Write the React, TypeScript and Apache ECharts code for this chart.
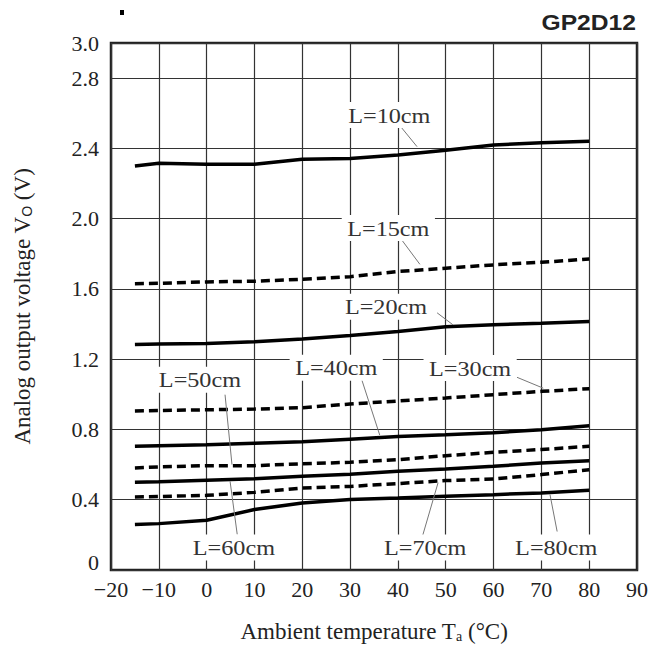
import React, { useEffect, useRef } from 'react';
import * as echarts from 'echarts';

const temps = [-15, -10, 0, 10, 20, 30, 40, 50, 60, 70, 80];
const L10 = [2.30, 2.315, 2.31, 2.31, 2.338, 2.343, 2.362, 2.39, 2.419, 2.432, 2.44];
const L15 = [1.63, 1.632, 1.64, 1.644, 1.655, 1.67, 1.699, 1.718, 1.737, 1.752, 1.77];
const L20 = [1.283, 1.286, 1.29, 1.30, 1.315, 1.335, 1.358, 1.385, 1.396, 1.405, 1.415];
const L30 = [0.905, 0.908, 0.912, 0.916, 0.924, 0.945, 0.962, 0.979, 0.998, 1.017, 1.032];
const L40 = [0.704, 0.707, 0.713, 0.722, 0.73, 0.745, 0.76, 0.77, 0.781, 0.799, 0.821];
const L50 = [0.581, 0.587, 0.594, 0.594, 0.605, 0.613, 0.628, 0.651, 0.67, 0.686, 0.704];
const L60 = [0.499, 0.502, 0.511, 0.52, 0.533, 0.545, 0.562, 0.575, 0.59, 0.609, 0.622];
const L70 = [0.416, 0.418, 0.425, 0.442, 0.467, 0.476, 0.492, 0.509, 0.518, 0.543, 0.571];
const L80 = [0.259, 0.264, 0.283, 0.344, 0.382, 0.401, 0.41, 0.42, 0.429, 0.439, 0.454];

const seriesNames = ['L=10cm', 'L=15cm', 'L=20cm', 'L=30cm', 'L=40cm', 'L=50cm', 'L=60cm', 'L=70cm', 'L=80cm'];
const seriesValues = [L10, L15, L20, L30, L40, L50, L60, L70, L80];
const seriesDashed = [false, true, false, true, false, true, false, true, false];

// annotation label positions in data coordinates [temperature, voltage]
const labelPos: [number, number][] = [
  [38.2, 2.59],
  [38.0, 1.947],
  [37.5, 1.498],
  [55.1, 1.15],
  [27.1, 1.151],
  [-1.4, 1.083],
  [5.7, 0.128],
  [45.7, 0.128],
  [73.1, 0.128],
];
// leader lines [t1, v1, t2, v2]
const leaders: [number, number, number, number][] = [
  [40.4, 2.53, 44.0, 2.41],
  [40.5, 1.89, 44.6, 1.74],
  [48.2, 1.464, 51.5, 1.396],
  [64.9, 1.097, 70.4, 1.035],
  [32.3, 1.095, 36.2, 0.768],
  [3.85, 0.998, 5.3, 0.6],
  [6.4, 0.202, 4.9, 0.505],
  [45.1, 0.189, 48.4, 0.497],
  [73.3, 0.219, 71.8, 0.43],
];

const SERIF = '"Liberation Serif", "Times New Roman", serif';

export default function App() {
  const ref = useRef<HTMLDivElement>(null);
  useEffect(() => {
    if (!ref.current) return;
    const chart = echarts.init(ref.current, null, { renderer: 'svg' });
    const option: any = {
      animation: false,
      backgroundColor: '#ffffff',
      grid: {
        left: 111,
        top: 43,
        right: 18,
        bottom: 77,
        show: true,
        borderColor: '#222',
        borderWidth: 2.5,
        backgroundColor: 'transparent',
      },
      xAxis: {
        type: 'value',
        min: -20,
        max: 90,
        interval: 10,
        axisLine: { show: false },
        axisTick: { show: false },
        splitLine: { show: true, lineStyle: { color: '#333', width: 1.2 } },
        axisLabel: {
          color: '#222',
          fontFamily: SERIF,
          fontSize: 22,
          margin: 8,
          formatter: (v: number) => (v < 0 ? '\u2212' + Math.abs(v) : String(v)),
        },
        name: 'Ambient temperature T{s|a} (°C)',
        nameLocation: 'middle',
        nameGap: 50,
        nameTextStyle: {
          color: '#222',
          fontFamily: SERIF,
          fontSize: 23,
          rich: {
            s: { fontFamily: SERIF, fontSize: 14, color: '#222', verticalAlign: 'bottom', padding: [8, 0, 0, 0] },
          },
        },
      },
      yAxis: {
        type: 'value',
        min: 0,
        max: 3.0,
        interval: 0.4,
        axisLine: { show: false },
        axisTick: { show: false },
        splitLine: { show: true, lineStyle: { color: '#333', width: 1.2 } },
        axisLabel: {
          color: '#222',
          fontFamily: SERIF,
          fontSize: 22,
          margin: 12,
          formatter: (v: number) => (v === 0 ? '{z|0}' : v.toFixed(1)),
          rich: {
            z: { fontFamily: SERIF, fontSize: 22, color: '#222', padding: [0, 0, 16, 0] },
          },
        },
        name: 'Analog output voltage V{s|O} (V)',
        nameLocation: 'middle',
        nameGap: 77,
        nameTextStyle: {
          color: '#222',
          fontFamily: SERIF,
          fontSize: 23,
          rich: {
            s: { fontFamily: '"Liberation Sans", Arial, sans-serif', fontSize: 14, color: '#222', verticalAlign: 'bottom', padding: [8, 0, 0, 0] },
          },
        },
      },
      series: seriesNames.map((name, i) => ({
        name,
        type: 'line',
        data: temps.map((t, j) => [t, seriesValues[i][j]]),
        showSymbol: false,
        symbol: 'none',
        lineStyle: {
          color: '#000',
          width: 3.5,
          type: seriesDashed[i] ? [9, 5] : 'solid',
          cap: 'butt',
        },
        z: 5,
      })),
    };
    chart.setOption(option);

    const toPx = (t: number, v: number) => chart.convertToPixel({ gridIndex: 0 } as any, [t, v]) as number[];
    const graphics: any[] = [];
    leaders.forEach((l) => {
      const a = toPx(l[0], l[1]);
      const b = toPx(l[2], l[3]);
      graphics.push({
        type: 'line',
        shape: { x1: a[0], y1: a[1], x2: b[0], y2: b[1] },
        style: { stroke: '#777', lineWidth: 1 },
        z: 20,
      });
    });
    seriesNames.forEach((name, i) => {
      const p = toPx(labelPos[i][0], labelPos[i][1]);
      graphics.push({
        type: 'text',
        x: p[0],
        y: p[1],
        scaleX: 1.1,
        z: 21,
        style: {
          text: name,
          font: '22px ' + SERIF,
          fill: '#333',
          align: 'center',
          verticalAlign: 'middle',
          backgroundColor: '#fff',
          padding: [2, 5],
        },
      });
    });
    graphics.push({
      type: 'text',
      x: 636,
      y: 22,
      scaleX: 1.12,
      z: 21,
      style: {
        text: 'GP2D12',
        font: 'bold 22px "Liberation Sans", Arial, sans-serif',
        fill: '#222',
        align: 'right',
        verticalAlign: 'middle',
      },
    });
    graphics.push({
      type: 'rect',
      shape: { x: 120, y: 10, width: 4, height: 5 },
      style: { fill: '#000' },
      z: 21,
    });
    chart.setOption({ graphic: graphics });

    return () => chart.dispose();
  }, []);
  return <div ref={ref} style={{ width: 655, height: 648, position: 'absolute', left: 0, top: 0 }} />;
}
